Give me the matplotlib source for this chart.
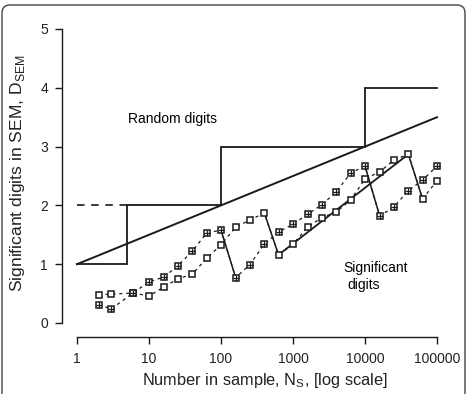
import numpy as np
import matplotlib.pyplot as plt
from matplotlib.patches import FancyBboxPatch

plt.rcParams['font.family'] = ['Liberation Sans', 'DejaVu Sans']
plt.rcParams['mathtext.fontset'] = 'custom'
plt.rcParams['mathtext.rm'] = 'Liberation Sans'

# sample sizes (log spaced) and the two sawtooth series
n_sample = [2, 3, 6, 10, 16, 25, 40, 63, 100, 160, 250, 400, 630, 1000,
            1600, 2500, 4000, 6300, 10000, 16000, 25000, 40000, 63000, 100000]
plus_digits = [0.31, 0.24, 0.51, 0.70, 0.78, 0.97, 1.22, 1.53, 1.58, 0.77,
               0.99, 1.34, 1.55, 1.68, 1.85, 2.01, 2.23, 2.55, 2.67, 1.82,
               1.97, 2.25, 2.43, 2.67]
open_digits = [0.48, 0.49, 0.51, 0.46, 0.61, 0.75, 0.83, 1.10, 1.33, 1.63,
               1.75, 1.87, 1.16, 1.34, 1.63, 1.79, 1.89, 2.09, 2.45, 2.57,
               2.77, 2.87, 2.11, 2.42]
plus_drops = [(8, 9), (18, 19)]
open_drops = [(11, 12), (21, 22)]
open_trend = (12, 21)

# random digits step and line
step_n = [1, 5, 5, 100, 100, 10000, 10000, 100000]
step_d = [1, 1, 2, 2, 3, 3, 4, 4]
dash_n = [1, 5]
dash_d = [2, 2]
rand_n = [1, 100000]
rand_d = [1, 3.5]

W, H = 469, 394
fig = plt.figure(figsize=(W / 100, H / 100), dpi=100)

def fx(p):
    return p / W

def fy(p):
    return (H - p) / H

# axes box in pixels: x 50..460, y 20..345
ax = fig.add_axes([fx(50), fy(345), fx(460) - fx(50), fy(20) - fy(345)])
ax.set_xscale('log')
ax.set_xlim(10 ** ((50 - 77) / 72), 10 ** ((460 - 77) / 72))
ax.set_ylim((323 - 345) / 58.8, (323 - 20) / 58.8)

lc = '#1a1a1a'
ax.plot(step_n, step_d, color=lc, lw=1.3, solid_joinstyle='miter')
ax.plot(dash_n, dash_d, color=lc, lw=1.2, dashes=(4.5, 4))
ax.plot(rand_n, rand_d, color=lc, lw=1.4)

ns = np.array(n_sample)
pd_ = np.array(plus_digits)
od = np.array(open_digits)

ax.plot(ns, pd_, color=lc, lw=0.9, dashes=(2.5, 3), zorder=2)
ax.plot(ns, od, color=lc, lw=0.9, dashes=(2.5, 3), zorder=2)
for a, b in plus_drops:
    ax.plot(ns[[a, b]], pd_[[a, b]], color=lc, lw=1.1, zorder=2)
for a, b in open_drops:
    ax.plot(ns[[a, b]], od[[a, b]], color=lc, lw=1.1, zorder=2)
ax.plot(ns[list(open_trend)], od[list(open_trend)], color=lc, lw=1.3, zorder=2)

ax.plot(ns, od, ls='none', marker='s', ms=5, mfc='white', mec=lc, mew=1.1, zorder=3)
ax.plot(ns, pd_, ls='none', marker='s', ms=5, mfc='white', mec=lc, mew=1.1, zorder=3)
ax.plot(ns, pd_, ls='none', marker='+', ms=5, mec=lc, mew=0.9, zorder=4)

ax.text(10 ** ((172 - 77) / 72), (323 - 119) / 58.8, 'Random digits',
        ha='center', va='center', fontsize=10)
ax.text(10 ** ((343 - 77) / 72), (323 - 268) / 58.8, 'Significant',
        ha='left', va='center', fontsize=10)
ax.text(10 ** ((347 - 77) / 72), (323 - 285) / 58.8, 'digits',
        ha='left', va='center', fontsize=10)

# R style axes
for s in ['top', 'right']:
    ax.spines[s].set_visible(False)
ax.spines['left'].set_position(('data', 10 ** ((62 - 77) / 72)))
ax.spines['left'].set_bounds(0, 5)
ax.spines['bottom'].set_position(('data', (323 - 337) / 58.8))
ax.spines['bottom'].set_bounds(1, 100000)
for s in ['left', 'bottom']:
    ax.spines[s].set_linewidth(1.0)
    ax.spines[s].set_color(lc)
ax.set_yticks([0, 1, 2, 3, 4, 5])
ax.set_xticks([1, 10, 100, 1000, 10000, 100000])
ax.set_xticklabels(['1', '10', '100', '1000', '10000', '100000'])
ax.minorticks_off()
ax.tick_params(axis='both', length=5, width=1.0, color=lc, labelsize=10, labelcolor='#222222')
ax.tick_params(axis='y', pad=5)
ax.tick_params(axis='x', pad=6)
ax.patch.set_visible(False)

fig.text(fx(265), fy(380), r'Number in sample, N$_{\rm S}$, [log scale]',
         ha='center', va='center', fontsize=11.8, color='#222222')
fig.text(fx(18), fy(173), r'Significant digits in SEM, D$_{\rm SEM}$',
         ha='center', va='center', rotation=90, fontsize=12.6, color='#222222')

border = FancyBboxPatch((2 / 100, -0.3), 463 / 100, (H - 5) / 100 + 0.3,
                        boxstyle='round,pad=0,rounding_size=0.08',
                        transform=fig.dpi_scale_trans, fill=False,
                        edgecolor='#444444', lw=1.0)
fig.patches.append(border)

fig.savefig('out.png', dpi=100)
